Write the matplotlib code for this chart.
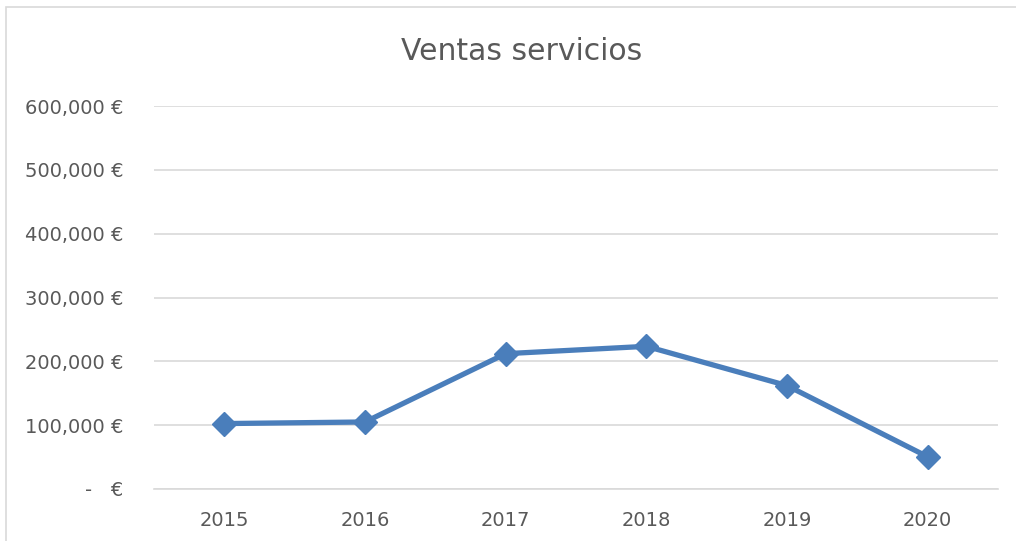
import matplotlib.pyplot as plt
from matplotlib.patches import Rectangle

years = ["2015", "2016", "2017", "2018", "2019", "2020"]
ventas = [102500, 105000, 212000, 223500, 162000, 50500]
y_ticks = [0, 100000, 200000, 300000, 400000, 500000, 600000]


def euro(v):
    if v == 0:
        return "-   €"
    return "{:,.0f} €".format(v)


fig = plt.figure(figsize=(10.16, 5.41), dpi=100)
ax = fig.add_axes([154 / 1016, 1 - 489 / 541, (998 - 154) / 1016, (489 - 106) / 541])

# marco del gráfico (sale por la derecha y por abajo)
fig.patches.append(Rectangle((6 / 1016, -0.1), 1.2, 1.1 - 7 / 541,
                             transform=fig.transFigure, fill=False,
                             edgecolor="#d9d9d9", linewidth=1.2))

x = range(len(years))
ax.plot(x, ventas, color="#4a7ebb", linewidth=3.8, marker="D",
        markersize=12, markeredgecolor="#4a7ebb", zorder=3)

ax.set_xlim(-0.5, len(years) - 0.5)
ax.set_ylim(0, 600000)
ax.set_yticks(y_ticks)
ax.set_yticklabels([euro(v) for v in y_ticks])
ax.set_xticks(list(x))
ax.set_xticklabels(years)

ax.grid(axis="y", color="#d9d9d9", linewidth=1.2)
ax.set_axisbelow(True)
for s in ["top", "right", "left"]:
    ax.spines[s].set_visible(False)
ax.spines["bottom"].set_color("#d9d9d9")
ax.spines["bottom"].set_linewidth(1.2)
ax.tick_params(axis="both", length=0, labelsize=14, labelcolor="#595959")
ax.tick_params(axis="y", pad=22)
ax.tick_params(axis="x", pad=16)

fig.text(522 / 1016, 1 - 52 / 541, "Ventas servicios", ha="center", va="center",
         fontsize=21.5, color="#595959")

fig.savefig("out.png", dpi=100)
